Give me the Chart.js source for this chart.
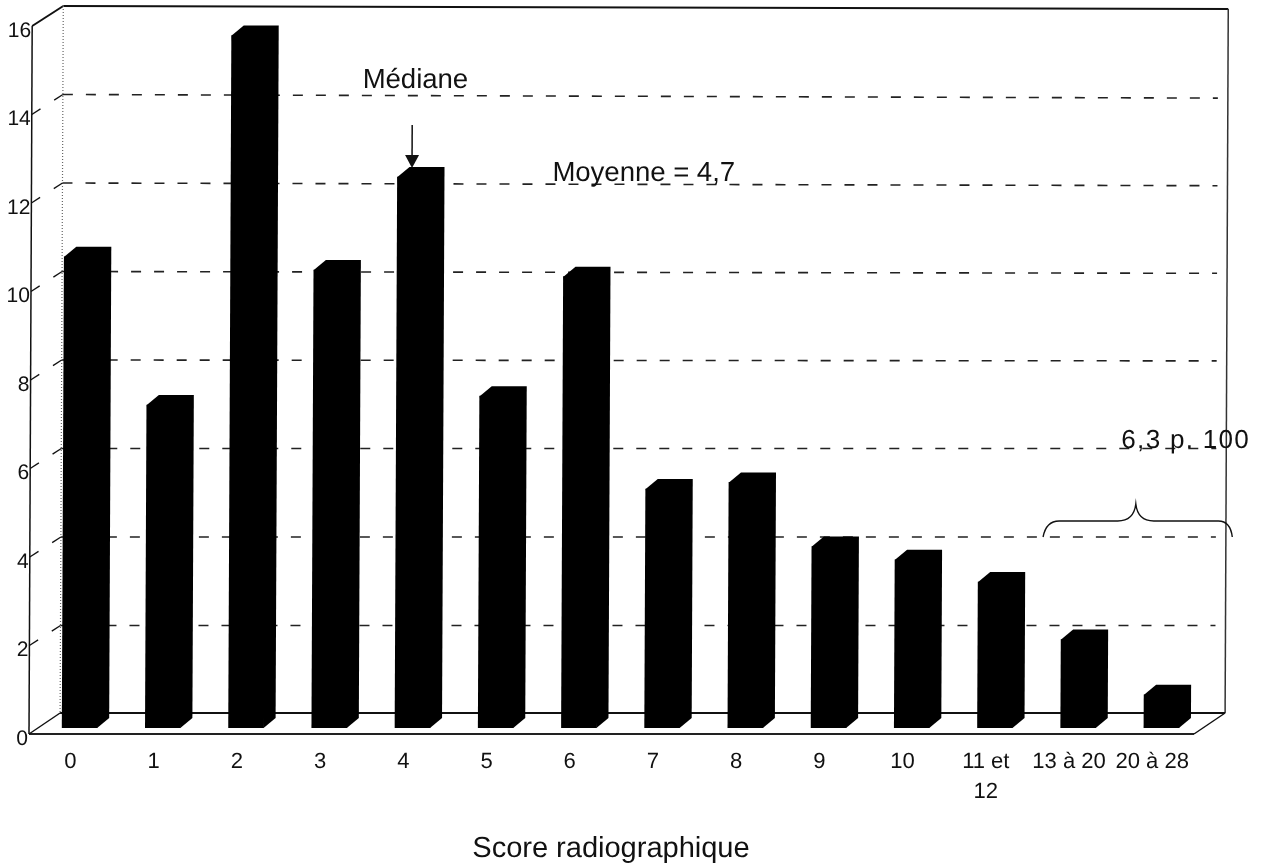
<html>
	<head>
		<style>
			body { margin: 0; background: #fff; }
			canvas { display: block; }
		</style>
		<script src="https://cdn.jsdelivr.net/npm/chart.js@4/dist/chart.umd.min.js"></script>
	</head>
	<body>
		<canvas id="myChart" width="1262" height="866"></canvas>
		<script>
			var categories = ["0", "1", "2", "3", "4", "5", "6", "7", "8", "9", "10", ["11 et", "12"], "13 à 20", "20 à 28"];
			var scores = [10.65, 7.3, 15.65, 10.35, 12.45, 7.5, 10.2, 5.4, 5.55, 4.1, 3.8, 3.3, 2.0, 0.75];
			var gridValues = [2, 4, 6, 8, 10, 12, 14];
			var axisTitle = "Score radiographique";
			var medianLabel = "Médiane";
			var meanLabel = "Moyenne = 4,7";
			var shareLabel = "6,3 p. 100";

			var FONT = '"Liberation Sans", Arial, sans-serif';
			var INK = "#111";
			// the old 3d look: back wall offset, bar plane offset, bar depth
			var wallX = 31, wallY = 20, floorY = 21;
			var barX = 9, barY = 6;
			var depthX = 12, depthY = 10;
			// the scan leans a little
			var lean = 0.0045;

			function line(ctx, x1, y1, x2, y2, width, color){
				ctx.lineWidth = width;
				ctx.strokeStyle = color;
				ctx.beginPath();
				ctx.moveTo(x1, y1);
				ctx.lineTo(x2, y2);
				ctx.stroke();
			}

			function text(ctx, str, x, y, align, size, spacing){
				ctx.font = size + "px " + FONT;
				ctx.fillStyle = INK;
				ctx.textAlign = align;
				ctx.textBaseline = "middle";
				ctx.letterSpacing = (spacing || 0) + "px";
				ctx.fillText(str, x, y);
				ctx.letterSpacing = "0px";
			}

			var box3d = {
				id: "box3d",
				beforeDraw: function(chart){
					var ctx = chart.ctx;
					ctx.save();
					ctx.transform(1, 0, -lean, 1, lean * chart.chartArea.bottom, 0);
				},
				beforeDatasetsDraw: function(chart){
					var ctx = chart.ctx, a = chart.chartArea, y = chart.scales.y;
					var top = y.getPixelForValue(16);
					ctx.save();
					// side wall and back wall outline
					line(ctx, a.left, a.bottom, a.left, top, 1.5, INK);
					line(ctx, a.left, top, a.left + wallX, top - wallY, 2, INK);
					line(ctx, a.left + wallX, top - wallY, a.right + wallX, top - wallY + 3, 2, INK);
					line(ctx, a.right + wallX, top - wallY + 3, a.right + wallX, a.bottom - floorY, 1.5, "#333");
					ctx.setLineDash([1, 2]);
					line(ctx, a.left + wallX, top - wallY, a.left + wallX, a.bottom - floorY, 1.2, "#666");
					ctx.setLineDash([]);
					// floor
					line(ctx, a.left, a.bottom, a.right, a.bottom, 2, "#222");
					line(ctx, a.left + wallX, a.bottom - floorY, a.right + wallX, a.bottom - floorY, 2.2, "#111");
					line(ctx, a.left, a.bottom, a.left + wallX, a.bottom - floorY, 1.5, INK);
					line(ctx, a.right, a.bottom, a.right + wallX, a.bottom - floorY, 1.5, INK);
					// dashed gridlines on the back wall, with their pieces on the side wall
					gridValues.forEach(function(v){
						var py = y.getPixelForValue(v);
						var sag = Math.max(0, v - 6) * 0.45;
						line(ctx, a.left, py, a.left + wallX * 0.28, py - wallY * 0.28, 1.3, INK);
						line(ctx, a.left + wallX * 0.72, py - wallY * 0.72, a.left + wallX, py - wallY, 1.3, INK);
						ctx.setLineDash([10, 13]);
						line(ctx, a.left + wallX, py - wallY, a.right + wallX - 10, py - wallY + sag, 1.6, "#222");
						ctx.setLineDash([]);
					});
					ctx.restore();
				},
				beforeDatasetDraw: function(chart){
					var ctx = chart.ctx;
					ctx.save();
					ctx.translate(barX, -barY);
					// top and side faces of each bar
					ctx.fillStyle = "#000";
					chart.getDatasetMeta(0).data.forEach(function(el){
						var w = el.width / 2;
						ctx.beginPath();
						ctx.moveTo(el.x - w, el.y);
						ctx.lineTo(el.x - w + depthX, el.y - depthY);
						ctx.lineTo(el.x + w + depthX, el.y - depthY);
						ctx.lineTo(el.x + w + depthX, el.base - depthY);
						ctx.lineTo(el.x + w, el.base);
						ctx.closePath();
						ctx.fill();
					});
				},
				afterDatasetDraw: function(chart){
					chart.ctx.restore();
				},
				afterDatasetsDraw: function(chart){
					var ctx = chart.ctx, x = chart.scales.x, y = chart.scales.y;
					var bars = chart.getDatasetMeta(0).data;
					ctx.save();
					text(ctx, medianLabel, x.getPixelForValue(4) + 9, 80, "center", 27.5);
					text(ctx, meanLabel, x.getPixelForValue(6) - 20, 173, "left", 27.5);
					text(ctx, shareLabel, x.getPixelForValue(13) + 32, 441, "center", 26, 1.3);

					// arrow pointing at the median bar
					var ax = bars[4].x + 6, tip = bars[4].y - barY - depthY + 1;
					line(ctx, ax, tip - 43, ax, tip - 10, 1.5, INK);
					ctx.fillStyle = INK;
					ctx.beginPath();
					ctx.moveTo(ax - 7, tip - 13);
					ctx.lineTo(ax + 7, tip - 13);
					ctx.lineTo(ax, tip);
					ctx.closePath();
					ctx.fill();

					// brace over the last two bars
					var left = x.getPixelForValue(12) - 27, right = x.getPixelForValue(13) + 79;
					var mid = (left + right) / 2 - 2;
					var base = y.getPixelForValue(4) - wallY, flat = base - 16, peak = base - 33;
					ctx.lineWidth = 1.4;
					ctx.strokeStyle = INK;
					ctx.beginPath();
					ctx.moveTo(left, base);
					ctx.quadraticCurveTo(left + 3, flat, left + 16, flat);
					ctx.lineTo(mid - 18, flat);
					ctx.quadraticCurveTo(mid - 2, flat, mid, peak);
					ctx.quadraticCurveTo(mid + 2, flat, mid + 18, flat);
					ctx.lineTo(right - 14, flat);
					ctx.quadraticCurveTo(right - 2, flat, right, base);
					ctx.stroke();
					ctx.restore();
				},
				afterDraw: function(chart){
					chart.ctx.restore();
				}
			};

			new Chart(document.getElementById("myChart").getContext("2d"), {
				type: "bar",
				data: {
					labels: categories,
					datasets: [{
						label: axisTitle,
						data: scores,
						backgroundColor: "#000",
						borderWidth: 0,
						barThickness: 35
					}]
				},
				options: {
					responsive: false,
					animation: false,
					layout: { padding: { top: 26, right: 68, left: 0, bottom: 0 } },
					plugins: { legend: { display: false }, tooltip: { enabled: false } },
					scales: {
						x: {
							grid: { display: false, drawTicks: false },
							border: { display: false },
							ticks: {
								autoSkip: false,
								maxRotation: 0,
								minRotation: 0,
								padding: 13,
								color: INK,
								font: { family: FONT, size: 22, lineHeight: 1.36 }
							},
							title: {
								display: true,
								text: axisTitle,
								color: INK,
								font: { family: FONT, size: 29 },
								padding: { top: 0, bottom: 0 }
							},
							afterFit: function(scale){ scale.height = 132; }
						},
						y: {
							min: 0,
							max: 16,
							grid: { display: false, drawTicks: false },
							border: { display: false },
							ticks: {
								stepSize: 2,
								padding: 1,
								labelOffset: 5,
								color: INK,
								font: { family: FONT, size: 21 }
							},
							afterFit: function(scale){ scale.width = 29; }
						}
					}
				},
				plugins: [box3d]
			});
		</script>
	</body>
</html>
